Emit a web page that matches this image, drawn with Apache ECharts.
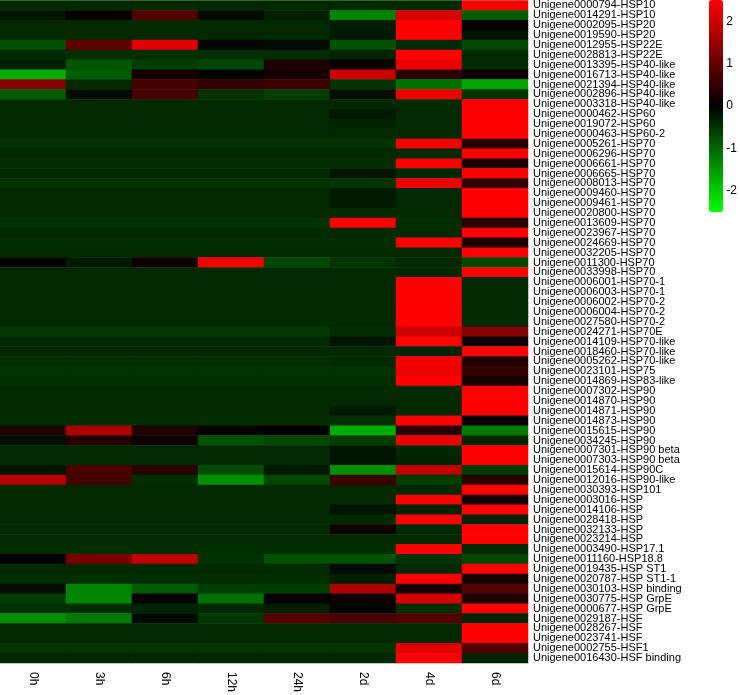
<!DOCTYPE html>
<html>
<head>
<meta charset="utf-8">
<script src="https://cdn.jsdelivr.net/npm/echarts@6/dist/echarts.min.js"></script>
<style>
html, body { margin: 0; padding: 0; background: #fff; }
#chart { width: 740px; height: 695px; }
</style>
</head>
<body>
<div id="chart"></div>
<script>
// sampling times (columns)
const times = ['0h', '3h', '6h', '12h', '24h', '2d', '4d', '6d'];

// gene names, top to bottom
const genes = [
  'Unigene0000794-HSP10', 'Unigene0014291-HSP10', 'Unigene0002095-HSP20', 'Unigene0019590-HSP20',
  'Unigene0012955-HSP22E', 'Unigene0028813-HSP22E', 'Unigene0013395-HSP40-like', 'Unigene0016713-HSP40-like',
  'Unigene0021394-HSP40-like', 'Unigene0002896-HSP40-like', 'Unigene0003318-HSP40-like', 'Unigene0000462-HSP60',
  'Unigene0019072-HSP60', 'Unigene0000463-HSP60-2', 'Unigene0005261-HSP70', 'Unigene0006296-HSP70',
  'Unigene0006661-HSP70', 'Unigene0006665-HSP70', 'Unigene0008013-HSP70', 'Unigene0009460-HSP70',
  'Unigene0009461-HSP70', 'Unigene0020800-HSP70', 'Unigene0013609-HSP70', 'Unigene0023967-HSP70',
  'Unigene0024669-HSP70', 'Unigene0032205-HSP70', 'Unigene0011300-HSP70', 'Unigene0033998-HSP70',
  'Unigene0006001-HSP70-1', 'Unigene0006003-HSP70-1', 'Unigene0006002-HSP70-2', 'Unigene0006004-HSP70-2',
  'Unigene0027580-HSP70-2', 'Unigene0024271-HSP70E', 'Unigene0014109-HSP70-like', 'Unigene0018460-HSP70-like',
  'Unigene0005262-HSP70-like', 'Unigene0023101-HSP75', 'Unigene0014869-HSP83-like', 'Unigene0007302-HSP90',
  'Unigene0014870-HSP90', 'Unigene0014871-HSP90', 'Unigene0014873-HSP90', 'Unigene0015615-HSP90',
  'Unigene0034245-HSP90', 'Unigene0007301-HSP90 beta', 'Unigene0007303-HSP90 beta', 'Unigene0015614-HSP90C',
  'Unigene0012016-HSP90-like', 'Unigene0030393-HSP101', 'Unigene0003016-HSP', 'Unigene0014106-HSP',
  'Unigene0028418-HSP', 'Unigene0032133-HSP', 'Unigene0023214-HSP', 'Unigene0003490-HSP17.1',
  'Unigene0011160-HSP18.8', 'Unigene0019435-HSP ST1', 'Unigene0020787-HSP ST1-1', 'Unigene0030103-HSP binding',
  'Unigene0030775-HSP GrpE', 'Unigene0000677-HSP GrpE', 'Unigene0029187-HSF', 'Unigene0028267-HSF',
  'Unigene0023741-HSF', 'Unigene0002755-HSF1', 'Unigene0016430-HSF binding'
];

// expression values (one row per gene, one column per time), grouped by family
const hspSmall = [
  [-0.4, -0.4, -0.4, -0.4, -0.4, -0.4, -0.4, 2.6],
  [-0.2, 0.05, 0.8, -0.1, -0.3, -1.3, 2.1, -0.9],
  [-0.4, -0.4, -0.4, -0.4, -0.4, -0.3, 2.6, 0.05],
  [-0.4, -0.4, -0.4, -0.4, -0.4, -0.25, 2.6, -0.2],
  [-0.8, 0.9, 2.2, -0.05, -0.1, -0.8, -0.4, -0.7],
  [-0.4, -0.45, -0.45, -0.45, -0.45, -0.35, 2.6, -0.4]
];
const hsp40 = [
  [-0.3, -0.85, -0.6, -0.7, 0.3, 0.1, 2.3, -0.4],
  [-1.7, -0.9, 0.2, -0.05, 0.2, 2.0, 0.4, 0.15],
  [1.3, -0.4, 0.7, 0.5, 0.6, -0.5, -1.1, -1.6],
  [-0.9, -0.1, 0.7, -0.5, -0.6, -0.15, 2.3, -0.5],
  [-0.4, -0.4, -0.4, -0.4, -0.4, -0.4, -0.4, 2.6]
];
const hsp60 = [
  [-0.4, -0.4, -0.4, -0.4, -0.4, -0.25, -0.4, 2.6],
  [-0.4, -0.4, -0.4, -0.4, -0.4, -0.35, -0.4, 2.6],
  [-0.4, -0.4, -0.4, -0.4, -0.4, -0.4, -0.4, 2.6]
];
const hsp70 = [
  [-0.5, -0.5, -0.5, -0.5, -0.5, -0.5, 2.4, 0.4],
  [-0.4, -0.4, -0.4, -0.4, -0.4, -0.4, -0.4, 2.6],
  [-0.45, -0.45, -0.45, -0.45, -0.45, -0.45, 2.5, 0.25],
  [-0.4, -0.4, -0.4, -0.4, -0.4, -0.2, -0.4, 2.6],
  [-0.5, -0.5, -0.5, -0.5, -0.5, -0.5, 2.3, 0.5],
  [-0.4, -0.4, -0.4, -0.4, -0.4, -0.25, -0.4, 2.6],
  [-0.4, -0.4, -0.4, -0.4, -0.4, -0.25, -0.4, 2.6],
  [-0.4, -0.4, -0.4, -0.4, -0.4, -0.4, -0.4, 2.6],
  [-0.5, -0.5, -0.5, -0.5, -0.5, 2.5, -0.45, 0.4],
  [-0.4, -0.4, -0.4, -0.4, -0.4, -0.4, -0.4, 2.6],
  [-0.45, -0.45, -0.45, -0.45, -0.45, -0.45, 2.5, 0.3],
  [-0.4, -0.4, -0.4, -0.4, -0.4, -0.4, -0.4, 2.6],
  [0.05, -0.25, 0.15, 2.4, -0.7, -0.5, -0.4, -0.7],
  [-0.4, -0.4, -0.4, -0.4, -0.4, -0.4, -0.4, 2.6],
  [-0.4, -0.4, -0.4, -0.4, -0.4, -0.4, 2.6, -0.4],
  [-0.4, -0.4, -0.4, -0.4, -0.4, -0.4, 2.6, -0.4],
  [-0.4, -0.4, -0.4, -0.4, -0.4, -0.4, 2.6, -0.4],
  [-0.4, -0.4, -0.4, -0.4, -0.4, -0.4, 2.6, -0.4],
  [-0.4, -0.4, -0.4, -0.4, -0.4, -0.4, 2.6, -0.4],
  [-0.55, -0.55, -0.55, -0.55, -0.55, -0.45, 2.0, 1.3],
  [-0.4, -0.4, -0.4, -0.4, -0.4, -0.2, 2.5, 0.1],
  [-0.4, -0.4, -0.4, -0.4, -0.4, -0.4, -0.35, 2.6],
  [-0.45, -0.45, -0.45, -0.45, -0.45, -0.4, 2.4, 0.3],
  [-0.5, -0.5, -0.5, -0.5, -0.5, -0.5, 2.3, 0.5],
  [-0.45, -0.45, -0.45, -0.45, -0.45, -0.45, 2.5, 0.2]
];
const hsp90 = [
  [-0.4, -0.4, -0.4, -0.4, -0.4, -0.4, -0.4, 2.6],
  [-0.4, -0.4, -0.4, -0.4, -0.4, -0.4, -0.4, 2.6],
  [-0.4, -0.4, -0.4, -0.4, -0.4, -0.25, -0.4, 2.6],
  [-0.45, -0.45, -0.45, -0.45, -0.45, -0.45, 2.5, 0.1],
  [0.3, 1.7, 0.3, 0.05, 0.02, -1.7, 0.4, -1.2],
  [-0.15, 0.4, 0.15, -0.8, -0.7, -0.6, 2.3, -0.4],
  [-0.4, -0.4, -0.4, -0.4, -0.4, -0.2, -0.4, 2.6],
  [-0.4, -0.4, -0.4, -0.4, -0.4, -0.2, -0.35, 2.6],
  [-0.2, 0.7, 0.4, -0.75, -0.25, -1.4, 1.9, -0.6],
  [1.8, 0.7, -0.45, -1.4, -0.7, 0.6, -0.6, 0.4]
];
const hspOther = [
  [-0.4, -0.4, -0.4, -0.4, -0.4, -0.4, -0.4, 2.6],
  [-0.4, -0.4, -0.4, -0.4, -0.4, -0.4, 2.6, 0.2],
  [-0.4, -0.4, -0.4, -0.4, -0.4, -0.2, -0.35, 2.6],
  [-0.4, -0.4, -0.4, -0.4, -0.4, -0.4, 2.6, -0.35],
  [-0.4, -0.4, -0.4, -0.4, -0.4, 0.15, -0.4, 2.6],
  [-0.4, -0.4, -0.4, -0.4, -0.4, -0.4, -0.4, 2.6],
  [-0.45, -0.45, -0.45, -0.45, -0.45, -0.45, 2.6, -0.4],
  [0.05, 1.2, 1.9, -0.5, -0.8, -0.8, -0.5, -0.7],
  [-0.4, -0.4, -0.4, -0.4, -0.4, -0.1, -0.4, 2.6],
  [-0.45, -0.45, -0.45, -0.45, -0.45, -0.3, 2.6, 0.2],
  [-0.15, -1.3, -0.9, -0.6, -0.6, 1.7, 0.2, 0.8],
  [-0.6, -1.3, 0.05, -1.1, 0.05, 0.15, 2.1, 0.3],
  [-0.45, -0.45, -0.35, -0.4, -0.3, -0.05, -0.45, 2.6]
];
const hsf = [
  [-1.4, -1.2, -0.1, -0.55, 0.8, 0.7, 0.8, -0.35],
  [-0.4, -0.4, -0.4, -0.4, -0.4, -0.4, -0.4, 2.6],
  [-0.4, -0.4, -0.4, -0.4, -0.4, -0.4, -0.4, 2.6],
  [-0.5, -0.5, -0.5, -0.5, -0.5, -0.5, 2.2, 0.8],
  [-0.4, -0.4, -0.4, -0.4, -0.4, -0.4, 2.6, -0.35]
];

// colour scale range
const scaleMin = -2.5;
const scaleMax = 2.5;

const rows = [].concat(hspSmall, hsp40, hsp60, hsp70, hsp90, hspOther, hsf);
const cells = [];
rows.forEach((r, i) => {
  r.forEach((v, j) => cells.push([j, i, v]));
});

const font = 'Liberation Sans, Arial, sans-serif';
const chart = echarts.init(document.getElementById('chart'));

chart.setOption({
  animation: false,
  backgroundColor: '#fff',
  grid: [
    { left: 0, top: 0, width: 528, height: 670 },
    { left: 709, top: 0, width: 14, height: 212 }
  ],
  xAxis: [
    {
      type: 'category', data: times, gridIndex: 0,
      axisLine: { show: false }, axisTick: { show: false }, splitLine: { show: false },
      axisLabel: { rotate: -90, margin: 9, fontSize: 12, color: '#000', fontFamily: font }
    },
    { type: 'value', gridIndex: 1, show: false, min: 0, max: 1 }
  ],
  yAxis: [
    {
      type: 'category', data: genes, gridIndex: 0, inverse: true, position: 'right',
      axisLine: { show: false }, axisTick: { show: false }, splitLine: { show: false },
      axisLabel: { margin: 5, fontSize: 11, color: '#000', fontFamily: font, interval: 0 }
    },
    {
      type: 'value', gridIndex: 1, min: scaleMin, max: scaleMax, position: 'right',
      axisLine: { show: false }, axisTick: { show: false }, splitLine: { show: false },
      axisLabel: {
        margin: 8, fontSize: 12, color: '#000', fontFamily: font,
        showMinLabel: false, showMaxLabel: false,
        formatter: v => (Number.isInteger(v) ? String(v) : '')
      }
    }
  ],
  visualMap: {
    type: 'continuous',
    min: scaleMin, max: scaleMax,
    seriesIndex: 0,
    calculable: false,
    left: 709, top: 0,
    itemWidth: 14, itemHeight: 212,
    padding: 0,
    text: null,
    inRange: { color: ['#00ff00', '#000000', '#ff0000'] }
  },
  series: [{
    type: 'heatmap',
    xAxisIndex: 0, yAxisIndex: 0,
    data: cells,
    itemStyle: { borderWidth: 0 },
    emphasis: { disabled: true }
  }]
});
</script>
</body>
</html>
